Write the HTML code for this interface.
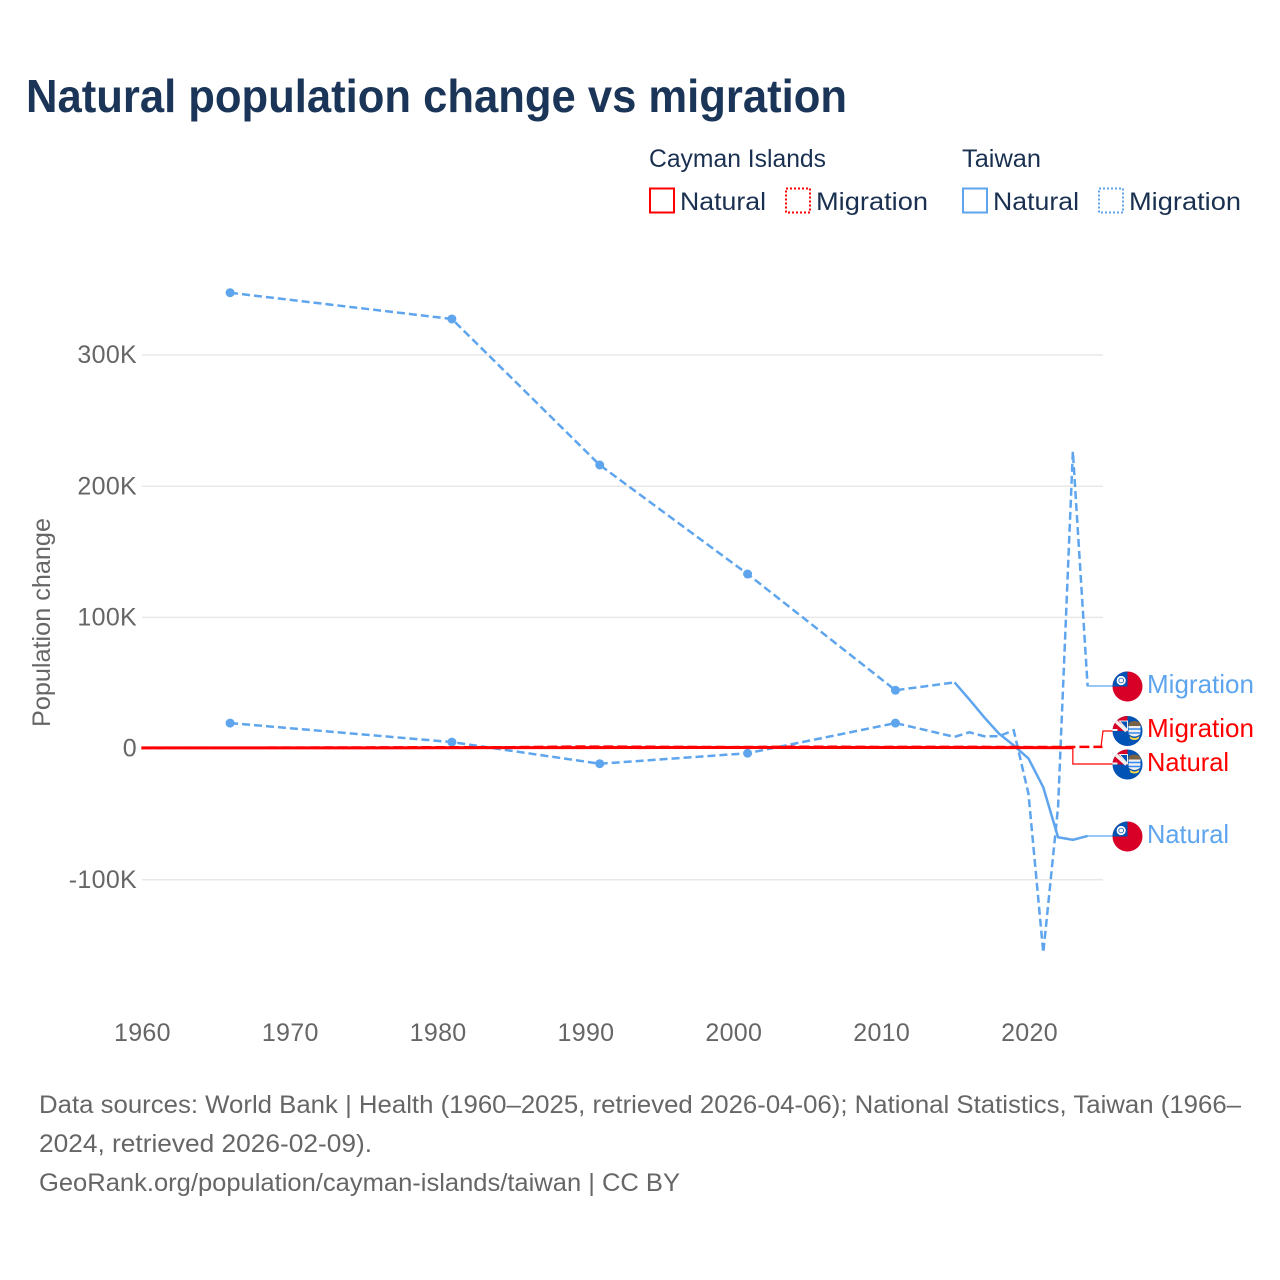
<!DOCTYPE html>
<html lang="en">
<head>
<meta charset="utf-8">
<title>Natural population change vs migration</title>
<style>
html,body{margin:0;padding:0;background:#fff;}
svg{display:block;font-family:"Liberation Sans",sans-serif;}
.legend-text{font-size:25px;fill:#1a3050;}
.tick{font-size:25px;fill:#666;letter-spacing:.3px;}
.foot{font-size:25px;fill:#666;}
.end-label{font-size:26px;}
</style>
</head>
<body>
<svg id="chart" xmlns="http://www.w3.org/2000/svg" width="1280" height="1280" viewBox="0 0 1280 1280">
  <rect width="1280" height="1280" fill="#fff"/>
  <defs>
    <clipPath id="flag-clip"><circle cx="0" cy="0" r="15"/></clipPath>
    <g id="flag-taiwan">
      <g clip-path="url(#flag-clip)">
        <rect x="-15" y="-15" width="30" height="30" fill="#d80027"/>
        <rect x="-15" y="-15" width="15" height="15" fill="#0052b4"/>
        <circle cx="-6.300" cy="-6" r="4.600" fill="#fff"/>
        <circle cx="-6.300" cy="-6" r="2.800" fill="#0052b4"/>
        <circle cx="-6.300" cy="-6" r="2" fill="#fff"/>
      </g>
    </g>
    <g id="flag-cayman">
      <g clip-path="url(#flag-clip)">
        <rect x="-15" y="-15" width="30" height="30" fill="#0052b4"/>
        <rect x="-15" y="-15" width="15" height="15" fill="#d80027"/>
        <rect x="-15" y="-2" width="4" height="2" fill="#f0f0f0"/>
        <path d="M-8 -10 H0 V-1 Z" fill="#0052b4" stroke="#f0f0f0" stroke-width="1"/>
        <path d="M-12 -10 L-1 0" stroke="#f0f0f0" stroke-width="3.500" fill="none"/>
        <path d="M-15 -2 H-10 V0 H-15 Z" fill="#f0f0f0"/>
        <path d="M1 -8 Q7 -12 13 -8 L13 -5 L1 -5 Z" fill="#786145"/>
        <path d="M1 -5 H13 V3 Q7 8 1 3 Z" fill="#f0f0f0"/>
        <path d="M1 -2 H13 M1 2 H13" stroke="#338af3" stroke-width="1.500"/>
        <path d="M2 5 Q7 9 12 5 L11 8 Q7 10 3 8 Z" fill="#ffda44"/>
      </g>
    </g>
  </defs>

  <text x="26" y="112" font-size="46" font-weight="700" fill="#1a3557" textLength="821" lengthAdjust="spacingAndGlyphs">Natural population change vs migration</text>

  <g>
    <text class="legend-text" x="649" y="167" textLength="177" lengthAdjust="spacingAndGlyphs">Cayman Islands</text>
    <text class="legend-text" x="962" y="167" textLength="79" lengthAdjust="spacingAndGlyphs">Taiwan</text>

    <rect x="650" y="188.500" width="24" height="24" fill="none" stroke="#ff0000" stroke-width="2"/>
    <text class="legend-text" x="680" y="210" textLength="86" lengthAdjust="spacingAndGlyphs">Natural</text>
    <rect x="786" y="188.500" width="24" height="24" fill="none" stroke="#ff0000" stroke-width="2" stroke-dasharray="2 2"/>
    <text class="legend-text" x="816" y="210" textLength="112" lengthAdjust="spacingAndGlyphs">Migration</text>

    <rect x="963" y="188.500" width="24" height="24" fill="none" stroke="#5ea5ee" stroke-width="2"/>
    <text class="legend-text" x="993" y="210" textLength="86" lengthAdjust="spacingAndGlyphs">Natural</text>
    <rect x="1099" y="188.500" width="24" height="24" fill="none" stroke="#5ea5ee" stroke-width="2" stroke-dasharray="2 2"/>
    <text class="legend-text" x="1129" y="210" textLength="112" lengthAdjust="spacingAndGlyphs">Migration</text>
  </g>

  <text transform="translate(50,622.500) rotate(-90)" text-anchor="middle" font-size="25" fill="#666" textLength="209" lengthAdjust="spacingAndGlyphs">Population change</text>

  <g id="grid"></g>
  <g id="yticks"></g>
  <g id="xticks"></g>
  <g id="series"></g>

  <g>
    <use href="#flag-taiwan" x="1127.500" y="686.500"/>
    <use href="#flag-cayman" x="1127.500" y="731"/>
    <use href="#flag-cayman" x="1127.500" y="764.500"/>
    <use href="#flag-taiwan" x="1127.500" y="836.500"/>
    <text class="end-label" x="1147" y="693" fill="#5ea5ee" textLength="107" lengthAdjust="spacingAndGlyphs">Migration</text>
    <text class="end-label" x="1147" y="737" fill="#ff0000" textLength="107" lengthAdjust="spacingAndGlyphs">Migration</text>
    <text class="end-label" x="1147" y="771" fill="#ff0000" textLength="82" lengthAdjust="spacingAndGlyphs">Natural</text>
    <text class="end-label" x="1147" y="843" fill="#5ea5ee" textLength="82" lengthAdjust="spacingAndGlyphs">Natural</text>
  </g>

  <g>
    <text class="foot" x="39" y="1113" textLength="1202" lengthAdjust="spacingAndGlyphs">Data sources: World Bank | Health (1960–2025, retrieved 2026-04-06); National Statistics, Taiwan (1966–</text>
    <text class="foot" x="39" y="1152" textLength="333" lengthAdjust="spacingAndGlyphs">2024, retrieved 2026-02-09).</text>
    <text class="foot" x="39" y="1191" textLength="641" lengthAdjust="spacingAndGlyphs">GeoRank.org/population/cayman-islands/taiwan | CC BY</text>
  </g>
</svg>

<script>
const yTickValues = [-100000, 0, 100000, 200000, 300000];
const yTickLabels = ["-100K", "0", "100K", "200K", "300K"];
const xTickYears = [1960, 1970, 1980, 1990, 2000, 2010, 2020];

const taiwanNaturalSparseYears = [1966, 1981, 1991, 2001, 2011, 2015];
const taiwanNaturalSparseValues = [347000, 327000, 215700, 132600, 44000, 50000];
const taiwanNaturalYears = [2015, 2016, 2017, 2018, 2019, 2020, 2021, 2022, 2023, 2024];
const taiwanNaturalValues = [50000, 37000, 23500, 11000, 2000, -8000, -30000, -68000, -70000, -67000];

const taiwanMigrationYears = [1966, 1981, 1991, 2001, 2011, 2015, 2016, 2017, 2018, 2019, 2020, 2021, 2022, 2023, 2024];
const taiwanMigrationValues = [19000, 4500, -12000, -4000, 19000, 8500, 12000, 9000, 9000, 13500, -35000, -156000, -45000, 226000, 47000];
const taiwanDotYears = [1966, 1981, 1991, 2001, 2011];

const caymanNaturalYears = [1960, 1970, 1975, 1980, 1985, 1990, 1995, 2000, 2005, 2010, 2015, 2019, 2020, 2023];
const caymanNaturalValues = [80, 100, 120, 150, 250, 300, 350, 350, 400, 400, 350, 300, 250, 200];
const caymanMigrationYears = [1960, 1965, 1970, 1975, 1980, 1985, 1990, 1995, 2000, 2005, 2010, 2015, 2020, 2023, 2025];
const caymanMigrationValues = [0, 100, 300, 400, 600, 600, 1100, 900, 700, 1000, 800, 900, 700, 800, 900];

const NS = "http://www.w3.org/2000/svg";
const BLUE = "#5ea5ee";
const RED = "#ff0000";
function xScale(year) { return 141.4 + (year - 1960) * 14.785; }
function yScale(v) { return 748 - v / 100000 * 131.2; }

function linePath(years, values) {
  return years.map(function (yr, i) {
    return (i ? "L" : "M") + xScale(yr).toFixed(2) + " " + yScale(values[i]).toFixed(2);
  }).join(" ");
}
function addPath(parent, d, color, width, dash) {
  const p = document.createElementNS(NS, "path");
  p.setAttribute("d", d);
  p.setAttribute("fill", "none");
  p.setAttribute("stroke", color);
  p.setAttribute("stroke-width", width);
  if (dash) p.setAttribute("stroke-dasharray", dash);
  parent.appendChild(p);
  return p;
}

const grid = document.getElementById("grid");
const yticks = document.getElementById("yticks");
yTickValues.forEach(function (v, i) {
  if (v !== 0) {
    const g = document.createElementNS(NS, "line");
    g.setAttribute("x1", 142);
    g.setAttribute("x2", 1103);
    g.setAttribute("y1", yScale(v) + 0.6);
    g.setAttribute("y2", yScale(v) + 0.6);
    g.setAttribute("stroke", "#e8e8e8");
    g.setAttribute("stroke-width", "1.500");
    
    
    grid.appendChild(g);
  }
  const t = document.createElementNS(NS, "text");
  t.setAttribute("class", "tick");
  t.setAttribute("x", 137);
  t.setAttribute("y", yScale(v) + 8.7);
  t.setAttribute("text-anchor", "end");
  
  
  t.textContent = yTickLabels[i];
  yticks.appendChild(t);
});

const xticks = document.getElementById("xticks");
xTickYears.forEach(function (yr) {
  const t = document.createElementNS(NS, "text");
  t.setAttribute("class", "tick");
  t.setAttribute("x", xScale(yr) + 1);
  t.setAttribute("y", 1041);
  t.setAttribute("text-anchor", "middle");
  
  
  t.textContent = yr;
  xticks.appendChild(t);
});

const series = document.getElementById("series");

function leader(years, values, targetY, color, bendX, name) {
  const n = years.length - 1;
  const sx = xScale(years[n]);
  const sy = yScale(values[n]);
  const mid = bendX === null ? sx : bendX;
  const p = addPath(series, "M" + sx + " " + sy + " L" + mid + " " + sy + " L" + (mid + (bendX === null ? 0 : 2)) + " " + targetY + " L1113 " + targetY, color, 1.2);
  
  
}

leader(caymanNaturalYears, caymanNaturalValues, 764, RED, null, "leader-cayman-natural");
leader(caymanMigrationYears, caymanMigrationValues, 731, RED, 1101, "leader-cayman-migration");
leader(taiwanMigrationYears, taiwanMigrationValues, 686, BLUE, null, "leader-taiwan-migration");
leader(taiwanNaturalYears, taiwanNaturalValues, 836, BLUE, null, "leader-taiwan-natural");

const tnSparse = addPath(series, linePath(taiwanNaturalSparseYears, taiwanNaturalSparseValues), BLUE, 2.5, "8 4");



const tn = addPath(series, linePath(taiwanNaturalYears, taiwanNaturalValues), BLUE, 2.5);



const tm = addPath(series, linePath(taiwanMigrationYears, taiwanMigrationValues), BLUE, 2.5, "8 4");



function addDots(years, srcYears, srcValues, name) {
  years.forEach(function (yr) {
    const c = document.createElementNS(NS, "circle");
    c.setAttribute("cx", xScale(yr));
    c.setAttribute("cy", yScale(srcValues[srcYears.indexOf(yr)]));
    c.setAttribute("r", 4.5);
    c.setAttribute("fill", BLUE);
    
    
    series.appendChild(c);
  });
}
addDots(taiwanDotYears, taiwanNaturalSparseYears, taiwanNaturalSparseValues, "point-taiwan-natural");
addDots(taiwanDotYears, taiwanMigrationYears, taiwanMigrationValues, "point-taiwan-migration");

const cn = addPath(series, linePath(caymanNaturalYears, caymanNaturalValues), RED, 3);



const cm = addPath(series, linePath(caymanMigrationYears, caymanMigrationValues), RED, 2.5, "10 4");


</script>
</body>
</html>
